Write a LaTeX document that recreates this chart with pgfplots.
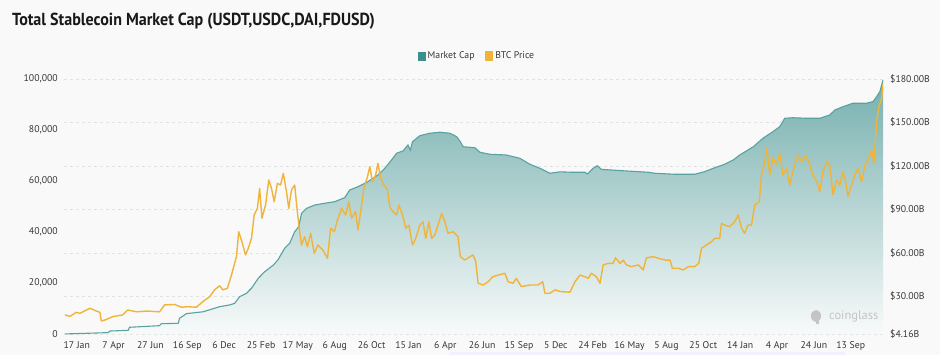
\documentclass[border=0pt]{standalone}
\usepackage{fontspec}
\setmainfont{PT Sans}
\usepackage{graphicx}
\usepackage{pgfplots}
\usepackage{pgfplotstable}
\pgfplotsset{compat=1.18}
\definecolor{bg}{RGB}{249,249,249}
\definecolor{tealline}{RGB}{88,163,161}
\definecolor{tealtop}{RGB}{118,176,174}
\definecolor{tealbot}{RGB}{248,250,250}
\definecolor{btc}{RGB}{240,180,58}
\definecolor{legteal}{RGB}{61,143,140}
\definecolor{txt}{RGB}{55,55,55}
\definecolor{gridc}{RGB}{226,226,226}
\definecolor{wm}{RGB}{196,196,196}

\pgfplotstableread{
d v
-26 4.2
69 5.1
73 6.2
113 6.7
116 8.8
182 9.9
186 11.3
223 11.5
226 15.0
241 18.2
278 19.5
314 23.0
336 24.2
347 25.3
358 29.9
373 32.2
384 35.7
399 42.6
413 47.1
432 51.7
442 55.2
457 63.3
468 66.7
479 74.7
488 78.2
494 87.4
505 90.8
523 93.1
545 94.3
567 95.4
589 98.2
600 103.5
618 105.7
640 109.2
662 113.8
677 118.4
692 124.2
703 128.8
717 130.4
728 134.5
733 131.0
738 136.8
754 140.9
776 142.6
798 143.3
820 142.6
835 140.2
843 136.8
849 133.3
875 132.6
886 129.5
908 128.1
944 127.6
974 125.3
996 121.2
1018 118.4
1040 115.0
1062 116.0
1087 115.7
1117 115.7
1122 114.5
1135 118.4
1144 120.2
1153 117.7
1197 116.8
1256 115.7
1270 115.0
1314 114.3
1358 114.3
1380 116.1
1402 118.8
1424 121.2
1443 124.2
1457 127.6
1487 133.3
1508 139.1
1530 143.7
1545 147.1
1556 152.9
1574 153.3
1604 152.9
1633 152.9
1655 155.2
1666 158.6
1684 160.9
1706 163.3
1736 163.3
1750 164.4
1758 167.8
1765 171.3
1772 179.3
}\mcdata

\pgfplotstableread{
d v
-26 7500
-15 6900
-1 8500
7 8100
29 10100
43 9000
51 8500
54 5100
62 5500
79 6800
101 7500
112 9400
132 8700
154 9000
182 8700
193 11400
215 11600
230 10500
244 10700
263 10500
277 12700
292 14600
303 17300
314 18900
321 17300
331 17900
340 23100
351 30300
356 40100
363 36200
371 31000
377 33600
384 37500
390 46700
397 49300
402 57100
407 45400
415 50600
422 60400
428 57100
434 51900
441 59100
448 58400
454 63000
461 55800
466 49300
472 56500
479 58400
484 49300
490 40100
494 34900
501 38200
507 34200
514 39500
522 31600
530 34900
541 32900
551 29700
558 41500
566 40100
573 44700
582 49300
591 46700
598 51900
604 45400
613 48000
618 40800
624 48000
631 57100
639 61700
644 65600
650 59700
657 62400
662 66900
668 61100
675 58400
683 56500
688 49900
695 48000
703 46700
708 50600
716 46700
723 41500
730 42700
738 34900
745 37500
754 42700
761 44000
767 37500
774 44000
780 37500
787 38800
794 42700
802 47300
809 44000
816 39500
827 40100
838 38200
843 30300
853 29000
864 30300
871 31000
877 28400
882 19900
893 19200
904 20500
915 22500
926 23100
941 23800
948 20500
959 19900
966 21800
977 18600
996 19200
1014 19200
1024 20500
1029 16000
1040 16000
1051 17300
1065 16600
1084 16400
1095 20500
1106 23100
1117 22500
1124 21800
1131 23800
1142 22500
1150 19900
1157 27100
1168 27700
1179 27700
1184 29900
1194 27700
1201 29000
1208 27100
1219 26400
1234 27100
1245 25100
1252 29900
1267 30300
1278 29700
1293 29000
1304 29000
1309 25800
1322 25800
1333 25100
1344 26400
1358 26400
1367 27700
1373 33600
1384 34900
1395 36200
1402 37500
1413 37500
1417 43400
1424 42700
1435 42100
1446 44000
1454 46700
1461 41500
1468 39500
1475 42700
1483 42700
1490 50600
1500 51900
1505 62400
1512 67600
1517 72800
1523 62400
1530 68900
1538 66300
1545 70900
1552 62400
1560 65000
1567 58400
1574 63700
1585 70200
1593 67600
1602 70200
1611 66300
1618 62400
1627 59700
1633 55800
1640 63700
1649 67600
1655 66300
1662 54500
1670 60400
1677 58400
1684 63700
1690 59700
1695 53900
1703 58400
1710 62400
1717 65000
1725 59700
1732 66300
1739 68200
1747 72200
1752 66900
1758 83300
1763 89100
1769 92400
1772 98300
}\btcdata

\begin{document}
\begin{tikzpicture}[x=1bp,y=1bp]
\fill[bg] (0,0) rectangle (940,355);
\fill[blue!6] (450,0) rectangle (845,3);
\node[anchor=base west, font=\fontsize{17.5}{20}\selectfont\bfseries, text=black!90, inner sep=0pt] at (12,330) {\scalebox{0.92}[1]{Total Stablecoin Market Cap (USDT,USDC,DAI,FDUSD)}};

\begin{axis}[
  at={(64bp,21bp)}, anchor=south west, scale only axis,
  width=819bp, height=255bp,
  xmin=-28, xmax=1772, ymin=4.16, ymax=180,
  axis line style={draw=none}, major tick length=0pt,
  scaled y ticks=false,
  ytick={4.16,30,60,90,120,150,180},
  yticklabels={\$4.16B,\$30.00B,\$60.00B,\$90.00B,\$120.00B,\$150.00B,\$180.00B},
  yticklabel pos=right,
  ymajorgrids, major grid style={gridc, dash pattern=on 3bp off 3bp, line width=0.7bp},
  xtick={0,81,...,1701},
  xticklabels={17 Jan,7 Apr,27 Jun,16 Sep,6 Dec,25 Feb,17 May,6 Aug,26 Oct,15 Jan,6 Apr,26 Jun,15 Sep,5 Dec,24 Feb,16 May,5 Aug,25 Oct,14 Jan,4 Apr,24 Jun,13 Sep},
  tick label style={font=\fontsize{9.8}{11}\selectfont, text=txt},
  yticklabel style={anchor=west, inner sep=0pt, xshift=7bp},
  xticklabel style={anchor=north, inner sep=0pt, yshift=-7.5bp},
]
\addplot[draw=none, top color=tealtop, bottom color=tealbot] table[x=d,y=v] {\mcdata} \closedcycle;
\addplot[tealline, line width=1.1bp] table[x=d,y=v] {\mcdata};
\end{axis}

\node[anchor=west, text=wm, font=\fontsize{12.5}{14}\selectfont, inner sep=0pt] at (829,39) {coinglass};
\fill[wm] (816,39) ellipse (5bp and 6bp);
\fill[wm] (816,31) rectangle (819,34);

\begin{axis}[
  at={(64bp,21bp)}, anchor=south west, scale only axis,
  width=819bp, height=255bp,
  xmin=-28, xmax=1772, ymin=0, ymax=100000,
  axis line style={draw=none}, major tick length=0pt,
  scaled y ticks=false, xtick=\empty,
  ytick={0,20000,40000,60000,80000,100000},
  yticklabels={0,{20,000},{40,000},{60,000},{80,000},{100,000}},
  tick label style={font=\fontsize{9.8}{11}\selectfont, text=txt},
  yticklabel style={anchor=east, inner sep=0pt, xshift=-6bp},
  legend style={draw=none, fill=none, at={(axis description cs:0.5,1)}, anchor=center,
    yshift=23bp, xshift=3.5bp, font=\fontsize{9.8}{11}\selectfont, text=txt,
    /tikz/every even column/.append style={column sep=8bp}},
  legend columns=2,
  legend image code/.code={\fill[#1] (0bp,-4bp) rectangle (7.5bp,4bp);},
]
\addlegendimage{color=legteal}
\addlegendentry{Market Cap}
\addplot[btc, line width=1.4bp, line join=round] table[x=d,y=v] {\btcdata};
\addlegendentry{BTC Price}
\end{axis}
\end{tikzpicture}
\end{document}
